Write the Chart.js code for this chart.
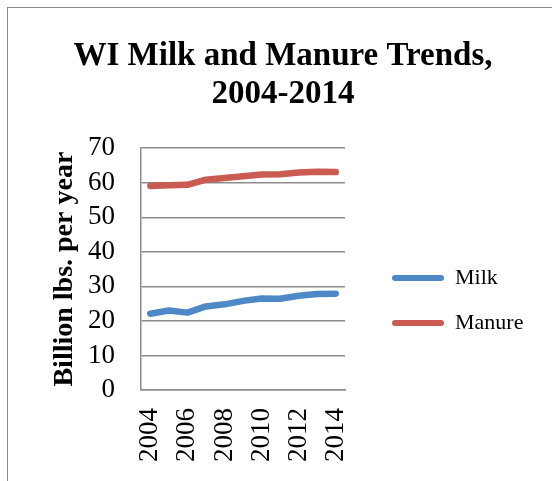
<!DOCTYPE html>
<html>
<head>
<meta charset="utf-8">
<script src="https://cdn.jsdelivr.net/npm/chart.js@4"></script>
<style>
    html, body {
        margin: 0;
        padding: 0;
        background: #ffffff;
        overflow: hidden;
    }
    #frame {
        position: absolute;
        left: 7px;
        top: 7px;
        width: 600px;
        height: 520px;
        border: 1px solid #8a8a8a;
    }
    #chart {
        position: absolute;
        left: 0;
        top: 0;
    }
</style>
</head>
<body>
<div id="frame"></div>
<canvas id="chart" width="552" height="481"></canvas>
<script>
const years = ["2004", "2005", "2006", "2007", "2008", "2009", "2010", "2011", "2012", "2013", "2014"];
const milk = [22.1, 23.0, 22.4, 24.2, 24.8, 25.8, 26.5, 26.4, 27.3, 27.8, 27.9];
const manure = [59.1, 59.3, 59.4, 60.9, 61.4, 61.9, 62.4, 62.5, 63.0, 63.2, 63.1];
const seriesNames = ["Milk", "Manure"];
const yTicks = [0, 10, 20, 30, 40, 50, 60, 70];

const colors = {
    milk: "#4f88c6",
    manure: "#c95b53",
};

const serif = "'Liberation Serif', 'DejaVu Serif', serif";

// keep the legend a fixed width and put it where the reference has it
const legendPlacer = {
    id: "legendPlacer",
    beforeLayout(chart) {
        const legend = chart.legend;
        if (legend && !legend.fixedFit) {
            const fit = legend.fit.bind(legend);
            legend.fit = () => {
                fit();
                legend.width = 207;
            };
            legend.fixedFit = true;
        }
    },
    afterLayout(chart) {
        const legend = chart.legend;
        const h = legend.height;
        legend.left = 369;
        legend.right = 552;
        legend.top = 244;
        legend.bottom = 244 + h;
    },
};

const ctx = document.getElementById("chart").getContext("2d");

new Chart(ctx, {
    type: "line",
    data: {
        labels: years,
        datasets: [
            {
                label: seriesNames[0],
                data: milk,
                borderColor: colors.milk,
                backgroundColor: colors.milk,
            },
            {
                label: seriesNames[1],
                data: manure,
                borderColor: colors.manure,
                backgroundColor: colors.manure,
            },
        ],
    },
    options: {
        responsive: false,
        animation: false,
        layout: {
            padding: { left: 14, right: 0, top: 0, bottom: 0 },
        },
        elements: {
            line: {
                borderWidth: 6.5,
                tension: 0,
                borderCapStyle: "round",
                borderJoinStyle: "round",
            },
            point: {
                radius: 0,
                hoverRadius: 0,
            },
        },
        plugins: {
            title: {
                display: true,
                text: ["WI Milk and Manure Trends,", "2004-2014"],
                color: "#000000",
                font: { family: serif, size: 33, weight: "bold", lineHeight: 1.14 },
                padding: { top: 38, bottom: 35 },
            },
            legend: {
                position: "right",
                align: "start",
                labels: {
                    color: "#000000",
                    font: { family: serif, size: 22 },
                    boxWidth: 52,
                    boxHeight: 6,
                    padding: 23,
                    useBorderRadius: true,
                    borderRadius: 3,
                    generateLabels: (chart) => {
                        const items = Chart.defaults.plugins.legend.labels.generateLabels(chart);
                        return items.map((item) => ({ ...item, lineWidth: 0 }));
                    },
                },
            },
            tooltip: { enabled: false },
        },
        scales: {
            x: {
                offset: true,
                grid: { display: false, drawTicks: false },
                border: { display: true, color: "#8c8c8c", width: 1.5 },
                ticks: {
                    autoSkip: false,
                    maxRotation: 90,
                    minRotation: 90,
                    padding: 18,
                    color: "#000000",
                    font: { family: serif, size: 27 },
                    callback: (value, index) => (index % 2 === 0 ? years[index] : ""),
                },
                afterFit: (scale) => {
                    scale.height = 91;
                },
            },
            y: {
                min: yTicks[0],
                max: yTicks[yTicks.length - 1],
                grid: { color: "#8c8c8c", lineWidth: 1.5, drawTicks: false },
                border: { display: true, color: "#8c8c8c", width: 1.5 },
                ticks: {
                    stepSize: 10,
                    autoSkip: false,
                    padding: 26,
                    color: "#000000",
                    font: { family: serif, size: 27 },
                },
                title: {
                    display: true,
                    text: "Billion lbs. per year",
                    color: "#000000",
                    font: { family: serif, size: 28, weight: "bold", lineHeight: 1.2 },
                    padding: { top: 34, bottom: 0 },
                },
                afterFit: (scale) => {
                    scale.width = 127;
                },
            },
        },
    },
    plugins: [legendPlacer],
});
</script>
</body>
</html>
